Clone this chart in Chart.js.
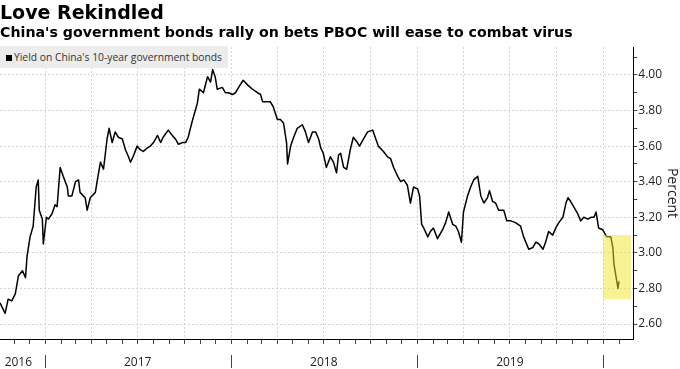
<!DOCTYPE html>
<html>
<head>
<meta charset="utf-8">
<script src="https://cdn.jsdelivr.net/npm/chart.js@4.4.1/dist/chart.umd.min.js"></script>
<style>
  html, body { margin: 0; padding: 0; background: #fff; }
  #wrap { position: relative; width: 680px; height: 369px; overflow: hidden; }
  #chart { position: absolute; left: 0; top: 0; }
  .title { position: absolute; left: 0; font-family: "DejaVu Sans", sans-serif; font-weight: bold; color: #000; white-space: nowrap; }
  #t1 { top: 1px; font-size: 19px; line-height: 22px; }
  #t2 { top: 24px; font-size: 14.2px; line-height: 17px; }
  #legend { position: absolute; left: 0; top: 46px; width: 228px; height: 22px; background: #ececec;
            font-family: "Open Sans", sans-serif; font-size: 10.3px; line-height: 22px; color: #333; white-space: nowrap; }
  #legend .sw { display: inline-block; width: 6px; height: 6px; background: #000; margin: 0 2px 0 6px; vertical-align: 0; }
</style>
</head>
<body>
<div id="wrap">
  <canvas id="chart" width="680" height="369"></canvas>
  <div class="title" id="t1">Love Rekindled</div>
  <div class="title" id="t2">China's government bonds rally on bets PBOC will ease to combat virus</div>
  <div id="legend"><span class="sw"></span>Yield on China's 10-year government bonds</div>
</div>
<script>
// Yield on China's 10-year government bonds
const dates = [
  '2016-10-04','2016-10-14','2016-10-20','2016-10-27','2016-11-03','2016-11-09','2016-11-17','2016-11-23',
  '2016-11-26','2016-12-02','2016-12-08','2016-12-14','2016-12-18','2016-12-20','2016-12-26','2016-12-28',
  '2017-01-03','2017-01-07','2017-01-14','2017-01-20','2017-01-24','2017-01-30','2017-02-05','2017-02-13',
  '2017-02-15','2017-02-22','2017-03-01','2017-03-07','2017-03-10','2017-03-20','2017-03-24','2017-03-30',
  '2017-04-09','2017-04-13','2017-04-19','2017-04-25','2017-05-02','2017-05-06','2017-05-12','2017-05-18',
  '2017-05-24','2017-06-01','2017-06-07','2017-06-13','2017-06-17','2017-06-22','2017-06-30','2017-07-06',
  '2017-07-12','2017-07-20','2017-07-26','2017-08-01','2017-08-09','2017-08-15','2017-08-20','2017-08-30',
  '2017-09-07','2017-09-13','2017-09-19','2017-09-27','2017-10-03','2017-10-08','2017-10-16','2017-10-22',
  '2017-10-26','2017-10-30','2017-11-07','2017-11-15','2017-11-21','2017-11-25','2017-11-30','2017-12-04',
  '2017-12-14','2017-12-20','2017-12-26',
  '2018-01-03','2018-01-09','2018-01-15','2018-01-24','2018-02-03','2018-02-11','2018-02-21','2018-02-27',
  '2018-03-03','2018-03-13','2018-03-18','2018-03-24','2018-04-01','2018-04-07','2018-04-13','2018-04-19',
  '2018-04-21','2018-04-27','2018-05-03','2018-05-10','2018-05-20','2018-05-26','2018-06-01','2018-06-09',
  '2018-06-15','2018-06-21','2018-06-25','2018-06-30','2018-07-06','2018-07-14','2018-07-20','2018-07-26',
  '2018-07-30','2018-08-03','2018-08-09','2018-08-15','2018-08-22','2018-08-28','2018-09-05','2018-09-09',
  '2018-09-17','2018-09-25','2018-10-05','2018-10-11','2018-10-16','2018-10-26','2018-11-03','2018-11-09',
  '2018-11-15','2018-11-23','2018-11-29','2018-12-05','2018-12-12','2018-12-18','2018-12-24',
  '2019-01-01','2019-01-05','2019-01-09','2019-01-13','2019-01-21','2019-01-26','2019-02-01','2019-02-09',
  '2019-02-19','2019-02-25','2019-03-03','2019-03-11','2019-03-17','2019-03-22','2019-03-28','2019-04-01',
  '2019-04-09','2019-04-15','2019-04-21','2019-04-29','2019-05-05','2019-05-11','2019-05-18','2019-05-22',
  '2019-05-28','2019-06-03','2019-06-09','2019-06-19','2019-06-25','2019-07-03','2019-07-12','2019-07-22',
  '2019-07-28','2019-08-07','2019-08-15','2019-08-21','2019-08-27','2019-09-04','2019-09-09','2019-09-15',
  '2019-09-23','2019-09-29','2019-10-05','2019-10-13','2019-10-19','2019-10-23','2019-10-28','2019-11-03',
  '2019-11-11','2019-11-17','2019-11-23','2019-12-01','2019-12-07','2019-12-13','2019-12-17','2019-12-22',
  '2019-12-30',
  '2020-01-03','2020-01-07','2020-01-15','2020-01-19','2020-01-21','2020-01-25','2020-01-29','2020-01-31'
];
const yields = [
  2.72, 2.66, 2.74, 2.73, 2.77, 2.87, 2.90, 2.86, 2.98, 3.09, 3.15, 3.37, 3.41, 3.24, 3.19, 3.05,
  3.20, 3.19, 3.22, 3.27, 3.26, 3.48, 3.43, 3.37, 3.32, 3.32, 3.40, 3.41, 3.34, 3.31, 3.24, 3.31,
  3.34, 3.41, 3.51, 3.47, 3.64, 3.70, 3.62, 3.68, 3.65, 3.64, 3.58, 3.54, 3.51, 3.54, 3.60, 3.58,
  3.57, 3.59, 3.60, 3.62, 3.66, 3.62, 3.65, 3.69, 3.66, 3.64, 3.61, 3.62, 3.62, 3.65, 3.74, 3.80,
  3.84, 3.92, 3.90, 3.99, 3.96, 4.03, 3.99, 3.92, 3.93, 3.90, 3.90,
  3.89, 3.90, 3.93, 3.97, 3.94, 3.92, 3.90, 3.89, 3.85, 3.85, 3.85, 3.82, 3.75, 3.75, 3.73, 3.62,
  3.50, 3.60, 3.65, 3.70, 3.72, 3.68, 3.62, 3.68, 3.68, 3.64, 3.59, 3.56, 3.48, 3.54, 3.51, 3.45,
  3.55, 3.56, 3.48, 3.47, 3.58, 3.65, 3.62, 3.60, 3.64, 3.68, 3.69, 3.64, 3.60, 3.57, 3.54, 3.53,
  3.48, 3.43, 3.40, 3.41, 3.38, 3.28, 3.37,
  3.36, 3.32, 3.16, 3.14, 3.09, 3.12, 3.14, 3.08, 3.13, 3.17, 3.23, 3.16, 3.15, 3.12, 3.06, 3.23,
  3.32, 3.37, 3.41, 3.43, 3.32, 3.28, 3.31, 3.35, 3.29, 3.28, 3.24, 3.24, 3.18, 3.18, 3.17, 3.15,
  3.09, 3.02, 3.03, 3.06, 3.05, 3.02, 3.06, 3.12, 3.10, 3.14, 3.17, 3.20, 3.28, 3.31, 3.29, 3.26,
  3.22, 3.18, 3.20, 3.19, 3.20, 3.20, 3.23, 3.14, 3.13,
  3.11, 3.09, 3.09, 3.03, 2.94, 2.87, 2.80, 2.84
];

// axis ranges and tick labels
const xMin = '2016-10-04';
const xMax = '2020-02-28';
const yMin = 2.516;
const yMax = 4.157;
const yMajorTicks = [2.6, 2.8, 3.0, 3.2, 3.4, 3.6, 3.8, 4.0];
const yMinorTicks = [2.7, 2.9, 3.1, 3.3, 3.5, 3.7, 3.9, 4.1];
const yearLabels = ['2016', '2017', '2018', '2019'];
const yearLabelDates = ['2016-11-09', '2017-07-01', '2018-07-01', '2019-07-01'];
const yearStarts = ['2017-01-01', '2018-01-01', '2019-01-01', '2020-01-01'];

// highlighted area around the latest drop
const boxStart = '2019-12-31';
const boxEnd = '2020-02-24';
const boxLow = 2.74;
const boxHigh = 3.10;

const toMs = s => Date.parse(s + 'T00:00:00Z');
const clear = 'rgba(0,0,0,0)';
const gridColor = '#d4d4d4';
const tickFont = { family: '"Open Sans", sans-serif', size: 12 };

// month starts inside the x range, for the small ticks
const monthTicks = [];
for (let y = 2016; y <= 2020; y++) {
  for (let m = 0; m < 12; m++) {
    const t = Date.UTC(y, m, 1);
    if (t > toMs(xMin) && t < toMs(xMax)) monthTicks.push(t);
  }
}
const labelAt = new Map(yearLabelDates.map((d, i) => [toMs(d), yearLabels[i]]));
const yearStartSet = new Set(yearStarts.map(toMs));
const monthSet = new Set(monthTicks);
const xTicks = Array.from(new Set([...monthTicks, ...labelAt.keys()])).sort((a, b) => a - b);

const isQuarter = v => monthSet.has(v) && new Date(v).getUTCMonth() % 3 === 0;
const isMajorY = v => Math.round(v * 10) % 2 === 0;

const highlightBox = {
  id: 'highlightBox',
  afterDatasetsDraw(chart) {
    const { ctx, scales: { x, y } } = chart;
    const x0 = x.getPixelForValue(toMs(boxStart));
    const x1 = x.getPixelForValue(toMs(boxEnd));
    const y0 = y.getPixelForValue(boxHigh);
    const y1 = y.getPixelForValue(boxLow);
    ctx.save();
    ctx.fillStyle = 'rgba(240,230,40,0.5)';
    ctx.fillRect(x0, y0, x1 - x0, y1 - y0);
    ctx.restore();
  }
};

new Chart(document.getElementById('chart'), {
  type: 'line',
  data: {
    datasets: [{
      label: "Yield on China's 10-year government bonds",
      data: dates.map((d, i) => ({ x: toMs(d), y: yields[i] })),
      borderColor: '#000',
      borderWidth: 1.5,
      borderJoinStyle: 'round',
      pointRadius: 0,
      tension: 0,
      fill: false
    }]
  },
  options: {
    responsive: false,
    animation: false,
    devicePixelRatio: 1,
    layout: { padding: { top: 47, left: 0, right: 0, bottom: 0 } },
    plugins: { legend: { display: false }, tooltip: { enabled: false } },
    scales: {
      x: {
        type: 'linear',
        min: toMs(xMin),
        max: toMs(xMax),
        afterBuildTicks: s => { s.ticks = xTicks.map(v => ({ value: v })); },
        ticks: {
          autoSkip: false,
          maxRotation: 0,
          crossAlign: 'far',
          padding: -5,
          color: '#222',
          font: { family: '"Open Sans", sans-serif', size: 12, lineHeight: '11px' },
          callback: v => labelAt.get(v) || ''
        },
        grid: {
          color: ctx => (ctx.tick && isQuarter(ctx.tick.value)) ? gridColor : clear,
          lineWidth: 1,
          tickLength: 29,
          tickColor: ctx => (ctx.tick && monthSet.has(ctx.tick.value)) ? '#444' : clear,
          tickBorderDash: ctx => (ctx.tick && yearStartSet.has(ctx.tick.value)) ? [4, 11, 14, 100] : [4, 100]
        },
        border: { color: '#000', width: 1, dash: [2, 2] }
      },
      y: {
        position: 'right',
        min: yMin,
        max: yMax,
        afterBuildTicks: s => {
          s.ticks = [...yMajorTicks, ...yMinorTicks].sort((a, b) => a - b).map(v => ({ value: v }));
        },
        ticks: {
          autoSkip: false,
          padding: 1,
          color: '#222',
          font: tickFont,
          callback: v => isMajorY(v) ? v.toFixed(2) : ''
        },
        grid: {
          color: ctx => (ctx.tick && isMajorY(ctx.tick.value)) ? gridColor : clear,
          lineWidth: 1,
          tickLength: 4,
          tickColor: '#444'
        },
        border: { color: '#000', width: 1, dash: [2, 2] },
        title: {
          display: true,
          text: 'Percent',
          color: '#222',
          font: { family: '"Open Sans", sans-serif', size: 14, lineHeight: 1 },
          padding: { top: 1, bottom: 2 }
        }
      }
    }
  },
  plugins: [highlightBox]
});
</script>
</body>
</html>
